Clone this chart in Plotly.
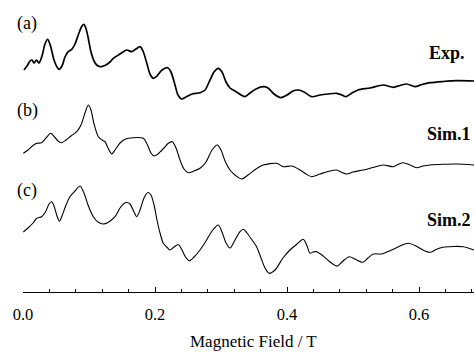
import plotly.graph_objects as go

# Magnetic field (T) and intensity (a.u., stacked) for each spectrum
field_a = [0.0015, 0.0061, 0.0106, 0.0136, 0.0167, 0.0205, 0.0242, 0.0288, 0.0333, 0.0374,
           0.0417, 0.0470, 0.0515, 0.0545, 0.0591, 0.0636, 0.0686, 0.0738, 0.0788, 0.0848,
           0.0894, 0.0920, 0.0947, 0.0985, 0.1030, 0.1076, 0.1117, 0.1167, 0.1242, 0.1318,
           0.1368, 0.1470, 0.1571, 0.1647, 0.1712, 0.1773, 0.1818, 0.1879, 0.1924, 0.1974,
           0.2030, 0.2106, 0.2192, 0.2242, 0.2303, 0.2348, 0.2405, 0.2470, 0.2561, 0.2682,
           0.2758, 0.2833, 0.2894, 0.2959, 0.3015, 0.3076, 0.3136, 0.3186, 0.3258, 0.3318,
           0.3364, 0.3439, 0.3530, 0.3641, 0.3712, 0.3803, 0.3905, 0.4000, 0.4091, 0.4171,
           0.4258, 0.4374, 0.4500, 0.4621, 0.4753, 0.4833, 0.4894, 0.4985, 0.5076, 0.5258,
           0.5459, 0.5611, 0.5712, 0.5814, 0.5939, 0.6045, 0.6167, 0.6364, 0.6571, 0.6833]
exp_a = [222, 226, 231, 232, 229, 232, 229, 236, 248, 252.7,
         246, 232, 225, 222.7, 226, 235, 240.3, 242.7, 248, 259,
         266, 267.7, 265, 255, 240, 231, 227, 225.3, 226.5, 230,
         233.7, 238, 242, 240.3, 243, 245.3, 241, 228, 218, 213.7,
         216, 222, 224.3, 220, 207, 197, 193, 195, 198, 199.3,
         202, 212, 220, 223.7, 220, 210, 204, 202, 199, 196.5,
         195.3, 199, 203, 205.3, 204, 198, 194.3, 197, 201, 202,
         200, 195.3, 197, 198, 198.7, 197, 195.3, 199, 202, 204,
         207, 204.7, 206.5, 208, 205.3, 207.5, 209.3, 210.5, 211.3, 211]

field_b = [0.0005, 0.0076, 0.0152, 0.0208, 0.0283, 0.0348, 0.0420, 0.0485, 0.0530, 0.0586,
           0.0652, 0.0727, 0.0814, 0.0879, 0.0939, 0.0989, 0.1030, 0.1076, 0.1141, 0.1197,
           0.1242, 0.1288, 0.1344, 0.1394, 0.1470, 0.1545, 0.1671, 0.1823, 0.1879, 0.1939,
           0.1985, 0.2045, 0.2136, 0.2197, 0.2262, 0.2318, 0.2379, 0.2439, 0.2505, 0.2591,
           0.2682, 0.2773, 0.2864, 0.2944, 0.3000, 0.3061, 0.3136, 0.3212, 0.3314, 0.3409,
           0.3530, 0.3641, 0.3844, 0.3944, 0.4071, 0.4197, 0.4288, 0.4374, 0.4500, 0.4621,
           0.4753, 0.4818, 0.4905, 0.5000, 0.5156, 0.5303, 0.5459, 0.5611, 0.5682, 0.5762,
           0.5864, 0.5965, 0.6061, 0.6167, 0.6364, 0.6571, 0.6833]
sim1_b = [138.7, 142, 146.5, 148.7, 149.3, 154, 158.7, 154.5, 151, 149.3,
          152, 156, 160.3, 167, 179, 187, 182, 168, 155.3, 152,
          150.3, 144, 138, 142, 149, 152.7, 154.3, 153.7, 148, 139,
          136, 138, 144, 148.5, 150.3, 144, 132, 123, 119.3, 121,
          123.7, 130, 142, 147, 142, 131, 122, 117, 113, 117,
          123, 127, 128.7, 125.3, 126, 122, 118, 115.3, 118, 120.5,
          122, 120, 118, 120, 122, 124.5, 127, 125.3, 127.5, 129.3,
          127, 124.3, 126, 127, 127.7, 128, 127]

field_c = [0.0005, 0.0076, 0.0152, 0.0208, 0.0283, 0.0348, 0.0394, 0.0435, 0.0470, 0.0515,
           0.0553, 0.0591, 0.0652, 0.0712, 0.0788, 0.0864, 0.0924, 0.0985, 0.1065, 0.1136,
           0.1217, 0.1288, 0.1394, 0.1470, 0.1530, 0.1571, 0.1621, 0.1682, 0.1723, 0.1773,
           0.1833, 0.1894, 0.1939, 0.1985, 0.2030, 0.2076, 0.2126, 0.2177, 0.2227, 0.2288,
           0.2353, 0.2409, 0.2462, 0.2520, 0.2591, 0.2682, 0.2773, 0.2864, 0.2959, 0.3015,
           0.3076, 0.3136, 0.3212, 0.3288, 0.3338, 0.3394, 0.3470, 0.3541, 0.3606, 0.3667,
           0.3727, 0.3818, 0.3939, 0.4045, 0.4152, 0.4247, 0.4303, 0.4348, 0.4394, 0.4450,
           0.4530, 0.4652, 0.4762, 0.4848, 0.4944, 0.5030, 0.5147, 0.5227, 0.5308, 0.5433,
           0.5530, 0.5611, 0.5712, 0.5838, 0.5955, 0.6061, 0.6167, 0.6258, 0.6364, 0.6515,
           0.6671, 0.6833]
sim2_c = [60, 64, 69, 73.7, 75.3, 81, 88, 90.3, 86, 76,
          70.7, 76, 87, 95.3, 101, 106, 99, 87, 75.3, 70,
          68, 69.5, 75.3, 84, 88.5, 89.5, 88, 80, 75.3, 82,
          94, 99.5, 97, 87, 72, 59, 48.7, 45, 42, 45,
          47.5, 42, 35, 31.3, 35, 42, 51, 61, 67, 60,
          49, 44, 52, 60.3, 62.7, 59, 52, 45, 34, 24,
          18.7, 22, 34, 42, 48, 52.7, 46, 38.7, 40, 40.3,
          37, 30, 26, 31, 35.3, 33, 29.7, 34, 38, 38,
          40.5, 42.7, 46, 48.7, 46, 42, 39.7, 42.5, 44.7, 45.5,
          45.3, 42]

panel_labels = ["(a)", "(b)", "(c)"]
series_names = ["Exp.", "Sim.1", "Sim.2"]
x_ticks = [0.0, 0.2, 0.4, 0.6]
x_ticktext = ["0.0", "0.2", "0.4", "0.6"]
x_title = "Magnetic Field / T"

serif = "Liberation Serif, Times New Roman, serif"

fig = go.Figure()
for xs, ys, w, name in [(field_a, exp_a, 1.7, series_names[0]),
                        (field_b, sim1_b, 1.1, series_names[1]),
                        (field_c, sim2_c, 1.1, series_names[2])]:
    fig.add_trace(go.Scatter(x=xs, y=ys, mode="lines", name=name,
                             line=dict(color="black", width=w, shape="spline", smoothing=0.8),
                             showlegend=False, hoverinfo="skip"))

# panel labels (left) and series names (right); plot area spans 292 px vertically
for lab, yv in zip(panel_labels, [0.921, 0.623, 0.346]):
    fig.add_annotation(x=-0.018, y=yv, xref="paper", yref="paper", text=lab, showarrow=False,
                       xanchor="left", yanchor="middle", font=dict(family=serif, size=18, color="black"))
for nm, yv, xr in zip(series_names, [0.818, 0.541, 0.247], [0.985, 0.998, 0.998]):
    fig.add_annotation(x=xr, y=yv, xref="paper", yref="paper", text="<b>%s</b>" % nm, showarrow=False,
                       xanchor="right", yanchor="middle", font=dict(family=serif, size=18, color="black"))

# axis title
fig.add_annotation(x=0.512, y=-0.171, xref="paper", yref="paper", text=x_title, showarrow=False,
                   xanchor="center", yanchor="middle", font=dict(family=serif, size=17, color="black"))

fig.update_xaxes(range=[0, 0.6833], showline=True, linecolor="black", linewidth=1,
                 tickvals=x_ticks, ticktext=x_ticktext, ticks="inside", ticklen=5,
                 tickcolor="black", tickwidth=1, ticklabelstandoff=7,
                 minor=dict(ticks="inside", ticklen=3, dtick=0.04, tick0=0, tickcolor="black", tickwidth=1),
                 showgrid=False, zeroline=False,
                 tickfont=dict(family=serif, size=16.5, color="black"))
fig.update_yaxes(range=[0, 292], visible=False)

fig.update_layout(width=474, height=352, margin=dict(l=23, r=0, t=0, b=60),
                  plot_bgcolor="white", paper_bgcolor="white")

fig.write_html("out.html", config={"displayModeBar": False},
               post_script="document.body.style.margin='0';document.body.style.overflow='hidden';")
